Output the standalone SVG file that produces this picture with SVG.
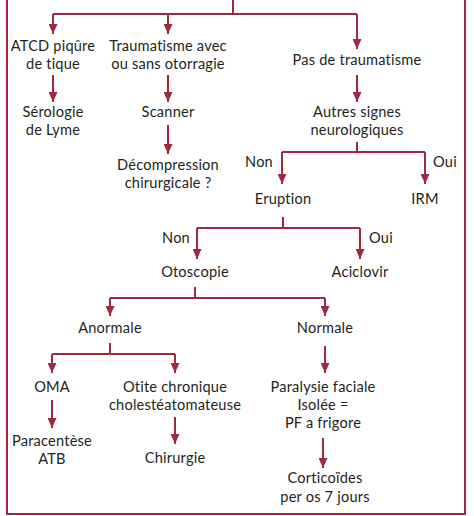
<svg xmlns="http://www.w3.org/2000/svg" width="474" height="516" viewBox="0 0 474 516">
<defs>
<marker id="ah" markerUnits="userSpaceOnUse" markerWidth="12" markerHeight="9" refX="10" refY="4.5" orient="auto">
<path d="M0,0 L10,4.5 L0,9 Z" fill="#9e2a40"/>
</marker>
<style>
.t{font-family:Lato,"Noto Sans",sans-serif;font-size:14.6px;letter-spacing:0.2px;font-variant-ligatures:none;fill:#231f20;text-anchor:middle}
.c{fill:none;stroke:#9e2a40;stroke-width:2}
.a{marker-end:url(#ah)}
</style>
</defs>
<rect x="7" y="-5" width="458" height="519" fill="none" stroke="#9e2a40" stroke-width="2"/>
<g id="connectors">
<path class="c" d="M233,0 V14 M53,14 H357"/>
<path class="c a" d="M53,14 V34"/>
<path class="c a" d="M168,14 V34"/>
<path class="c a" d="M357,14 V49"/>
<path class="c a" d="M53,75 V102"/>
<path class="c a" d="M168,75 V102"/>
<path class="c a" d="M357,75 V102"/>
<path class="c a" d="M168,125 V154"/>
<path class="c" d="M357,142 V152 M282,152 H425"/>
<path class="c a" d="M282,152 V184"/>
<path class="c a" d="M425,152 V184"/>
<path class="c" d="M283,217 V228 M197,228 H360"/>
<path class="c a" d="M197,228 V259"/>
<path class="c a" d="M360,228 V259"/>
<path class="c" d="M195,287 V298 M110,298 H325"/>
<path class="c a" d="M110,298 V316"/>
<path class="c a" d="M325,298 V316"/>
<path class="c" d="M110,343 V354 M52,354 H175"/>
<path class="c a" d="M52,354 V373"/>
<path class="c a" d="M175,354 V373"/>
<path class="c a" d="M325,346 V373"/>
<path class="c a" d="M52,400 V428"/>
<path class="c a" d="M175,417 V444"/>
<path class="c a" d="M323,438 V468"/>
</g>
<g id="n-atcd"><text class="t" x="53" y="51">ATCD piqûre<tspan x="53" dy="17.5">de tique</tspan></text></g>
<g id="n-trauma"><text class="t" x="168" y="51">Traumatisme avec<tspan x="168" dy="17.5">ou sans otorragie</tspan></text></g>
<g id="n-pastrauma"><text class="t" x="357" y="65">Pas de traumatisme</text></g>
<g id="n-lyme"><text class="t" x="53" y="117">Sérologie<tspan x="53" dy="17.5">de Lyme</tspan></text></g>
<g id="n-scanner"><text class="t" x="168" y="117">Scanner</text></g>
<g id="n-autres"><text class="t" x="357" y="117">Autres signes<tspan x="357" dy="17.5">neurologiques</tspan></text></g>
<g id="n-decomp"><text class="t" x="168" y="170">Décompression<tspan x="168" dy="18">chirurgicale ?</tspan></text></g>
<g id="l-non1"><text class="t" x="259" y="167">Non</text></g>
<g id="l-oui1"><text class="t" x="445" y="167">Oui</text></g>
<g id="n-eruption"><text class="t" x="283" y="204">Eruption</text></g>
<g id="n-irm"><text class="t" x="425" y="204">IRM</text></g>
<g id="l-non2"><text class="t" x="176" y="243">Non</text></g>
<g id="l-oui2"><text class="t" x="381" y="243">Oui</text></g>
<g id="n-otoscopie"><text class="t" x="195" y="277">Otoscopie</text></g>
<g id="n-aciclovir"><text class="t" x="360" y="277">Aciclovir</text></g>
<g id="n-anormale"><text class="t" x="110" y="333">Anormale</text></g>
<g id="n-normale"><text class="t" x="325" y="333">Normale</text></g>
<g id="n-oma"><text class="t" x="52" y="392">OMA</text></g>
<g id="n-otite"><text class="t" x="175" y="392">Otite chronique<tspan x="175" dy="18">cholestéatomateuse</tspan></text></g>
<g id="n-pf"><text class="t" x="323" y="392">Paralysie faciale<tspan x="323" dy="18">Isolée =</tspan><tspan x="323" dy="18">PF a frigore</tspan></text></g>
<g id="n-paracentese"><text class="t" x="52" y="446">Paracentèse<tspan x="52" dy="17.5">ATB</tspan></text></g>
<g id="n-chirurgie"><text class="t" x="175" y="463">Chirurgie</text></g>
<g id="n-cortico"><text class="t" x="325" y="483">Corticoïdes<tspan x="325" dy="19">per os 7 jours</tspan></text></g>
</svg>
